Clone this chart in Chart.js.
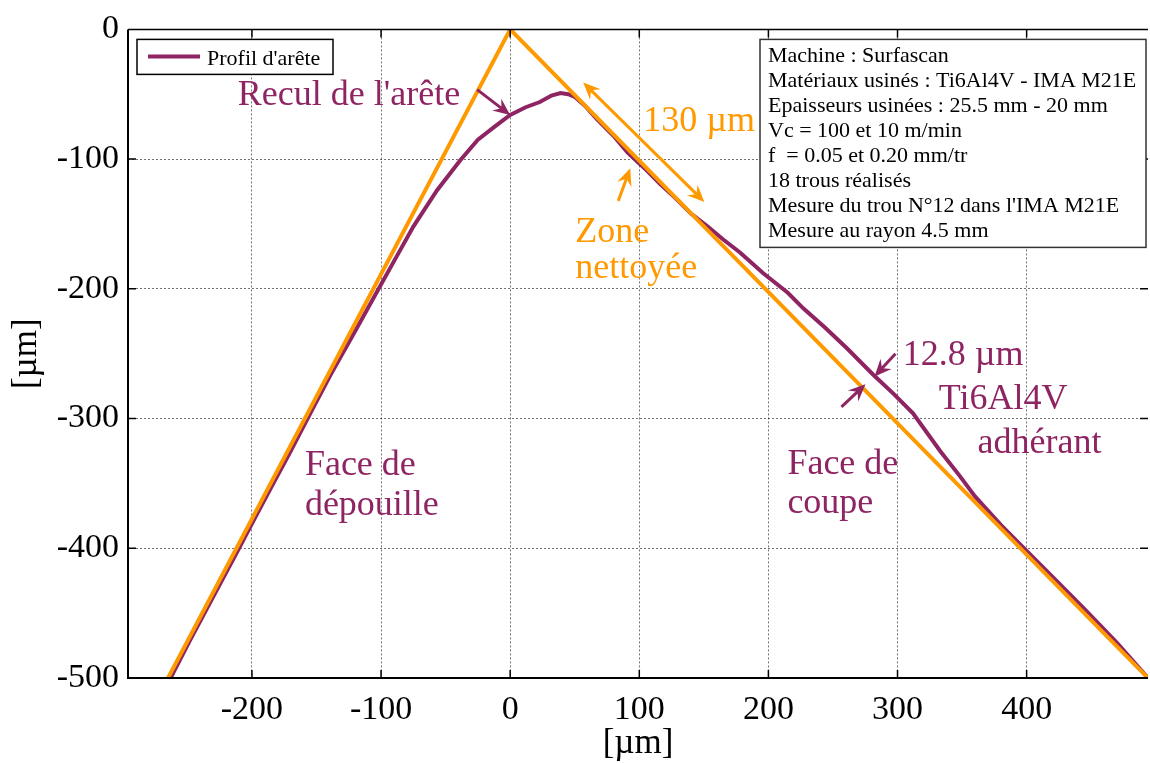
<!DOCTYPE html>
<html>
<head>
<meta charset="utf-8">
<script src="https://cdn.jsdelivr.net/npm/chart.js@4"></script>
<style>
  html, body { margin: 0; padding: 0; background: #fff; }
  #wrap { width: 1150px; height: 763px; }
</style>
</head>
<body>
<div id="wrap"><canvas id="chart"></canvas></div>
<script>
// measured edge profile [µm]
const profileX = [-263, -248, -232, -210.5, -199.5, -185.6, -171, -152.7, -139, -118.6, -100.8, -90.7, -75, -56.6, -38.8, -25, -12, 0, 12, 23, 32, 39, 45, 50, 58, 67, 80, 91, 104, 116, 128, 140, 153, 165, 178, 196, 215, 227, 244, 261, 281, 297, 312, 333, 348, 360, 380, 400, 423, 446, 470, 494];
const profileY = [-500, -471, -441, -401, -380, -354, -327, -292, -266, -230, -198, -180, -152, -124, -101, -85, -75, -66, -60, -56, -51, -49, -50, -52, -59, -69, -82, -95, -107, -119, -130, -142, -152, -162, -172, -188, -203, -215, -230, -246, -266, -281, -296, -325, -344, -360, -382, -402, -425, -448, -473, -500];
// theoretical sharp edge
const edgeX = [-265, 0, 494];
const edgeY = [-500, 0, -500];

const xTicks = [-200, -100, 0, 100, 200, 300, 400];
const yTicks = [0, -100, -200, -300, -400, -500];

const infoLines = [
    'Machine : Surfascan',
    'Matériaux usinés : Ti6Al4V - IMA M21E',
    'Epaisseurs usinées : 25.5 mm - 20 mm',
    'Vc = 100 et 10 m/min',
    'f  = 0.05 et 0.20 mm/tr',
    '18 trous réalisés',
    "Mesure du trou N°12 dans l'IMA M21E",
    'Mesure au rayon 4.5 mm'
];

const purple = '#8e2462';
const orange = '#ff9900';
const serif = '"Liberation Serif", "DejaVu Serif", serif';

// annotations, placed in data units
const notes = [
    { text: "Recul de l'arête", x: -211, y: -58.5, color: purple },
    { text: '130 µm', x: 103, y: -78, color: orange },
    { text: 'Zone', x: 50.4, y: -164, color: orange },
    { text: 'nettoyée', x: 50.4, y: -191.5, color: orange },
    { text: 'Face de', x: -159, y: -343.5, color: purple },
    { text: 'dépouille', x: -159, y: -374, color: purple },
    { text: 'Face de', x: 214.7, y: -342.7, color: purple },
    { text: 'coupe', x: 214.7, y: -373, color: purple },
    { text: '12.8 µm', x: 304, y: -258.4, color: purple },
    { text: 'Ti6Al4V', x: 332, y: -292.6, color: purple },
    { text: 'adhérant', x: 362, y: -326.7, color: purple }
];
const arrows = [
    { from: [-25.6, -46.4], to: [0, -66], color: purple },
    { from: [56.6, -41], to: [150.4, -133], color: orange, both: true },
    { from: [83.7, -132.2], to: [93, -107.1], color: orange },
    { from: [298.4, -250], to: [282.2, -267.5], color: purple },
    { from: [256.6, -291], to: [275.2, -273.6], color: purple }
];

function arrowHead(ctx, x, y, ang) {
    const len = 17, half = 7.5, back = 11;
    ctx.beginPath();
    ctx.moveTo(x, y);
    ctx.lineTo(x - len * Math.cos(ang) + half * Math.sin(ang), y - len * Math.sin(ang) - half * Math.cos(ang));
    ctx.lineTo(x - back * Math.cos(ang), y - back * Math.sin(ang));
    ctx.lineTo(x - len * Math.cos(ang) - half * Math.sin(ang), y - len * Math.sin(ang) + half * Math.cos(ang));
    ctx.closePath();
    ctx.fill();
}

function drawArrow(ctx, x0, y0, x1, y1, color, both) {
    const ang = Math.atan2(y1 - y0, x1 - x0);
    const c = Math.cos(ang), s = Math.sin(ang);
    ctx.strokeStyle = color;
    ctx.fillStyle = color;
    ctx.lineWidth = 3;
    ctx.beginPath();
    ctx.moveTo(both ? x0 + c * 10 : x0, both ? y0 + s * 10 : y0);
    ctx.lineTo(x1 - c * 10, y1 - s * 10);
    ctx.stroke();
    arrowHead(ctx, x1, y1, ang);
    if (both) arrowHead(ctx, x0, y0, ang + Math.PI);
}

const decor = {
    id: 'decor',
    afterDatasetsDraw(chart) {
        const { ctx, chartArea: a, scales: { x, y } } = chart;
        ctx.save();

        // axes box + inward ticks
        ctx.strokeStyle = '#000';
        ctx.lineWidth = 2;
        ctx.beginPath();
        ctx.moveTo(a.left, a.top);
        ctx.lineTo(a.left, a.bottom);
        ctx.lineTo(a.right, a.bottom);
        ctx.stroke();
        ctx.lineWidth = 1.5;
        ctx.beginPath();
        ctx.moveTo(a.left, a.top);
        ctx.lineTo(a.right, a.top);
        xTicks.forEach(v => {
            const px = x.getPixelForValue(v);
            ctx.moveTo(px, a.bottom); ctx.lineTo(px, a.bottom - 8);
            ctx.moveTo(px, a.top); ctx.lineTo(px, a.top + 8);
        });
        yTicks.forEach(v => {
            const py = y.getPixelForValue(v);
            ctx.moveTo(a.left, py); ctx.lineTo(a.left + 8, py);
            ctx.moveTo(a.right, py); ctx.lineTo(a.right - 8, py);
        });
        ctx.stroke();

        // legend
        const lx = a.left + 9, ly = a.top + 10;
        ctx.fillStyle = '#fff';
        ctx.fillRect(lx, ly, 196, 35);
        ctx.strokeStyle = '#000';
        ctx.lineWidth = 1.5;
        ctx.strokeRect(lx, ly, 196, 35);
        ctx.strokeStyle = purple;
        ctx.lineWidth = 4;
        ctx.beginPath();
        ctx.moveTo(lx + 11, ly + 17);
        ctx.lineTo(lx + 63, ly + 17);
        ctx.stroke();
        ctx.fillStyle = '#000';
        ctx.font = '22px ' + serif;
        ctx.textBaseline = 'alphabetic';
        ctx.fillText(chart.data.datasets[1].label, lx + 70, ly + 26);

        // info box
        const bw = 386, bh = 208;
        const bx = a.right - 2 - bw, by = a.top + 10;
        ctx.fillStyle = '#fff';
        ctx.fillRect(bx, by, bw, bh);
        ctx.strokeStyle = '#333';
        ctx.lineWidth = 1.5;
        ctx.strokeRect(bx, by, bw, bh);
        ctx.fillStyle = '#000';
        infoLines.forEach((t, i) => ctx.fillText(t, bx + 8, by + 23 + i * 25));

        // text notes
        ctx.font = '36px ' + serif;
        notes.forEach(n => {
            ctx.fillStyle = n.color;
            ctx.fillText(n.text, x.getPixelForValue(n.x), y.getPixelForValue(n.y));
        });

        // arrows
        arrows.forEach(r => {
            drawArrow(ctx,
                x.getPixelForValue(r.from[0]), y.getPixelForValue(r.from[1]),
                x.getPixelForValue(r.to[0]), y.getPixelForValue(r.to[1]),
                r.color, r.both);
        });
        ctx.restore();
    }
};

const toPoints = (xs, ys) => xs.map((v, i) => ({ x: v, y: ys[i] }));

new Chart(document.getElementById('chart'), {
    type: 'scatter',
    data: {
        datasets: [
            {
                label: 'Arête théorique',
                data: toPoints(edgeX, edgeY),
                showLine: true,
                borderColor: orange,
                borderWidth: 4,
                pointRadius: 0,
                tension: 0
            },
            {
                label: "Profil d'arête",
                data: toPoints(profileX, profileY),
                showLine: true,
                borderColor: purple,
                borderWidth: 4,
                pointRadius: 0,
                tension: 0
            }
        ]
    },
    options: {
        responsive: true,
        maintainAspectRatio: false,
        animation: false,
        layout: { padding: { top: 20, right: 2, left: 0, bottom: 0 } },
        plugins: { legend: { display: false }, tooltip: { enabled: false } },
        scales: {
            x: {
                type: 'linear',
                min: -296,
                max: 494,
                afterBuildTicks: s => { s.ticks = xTicks.map(v => ({ value: v })); },
                afterFit: s => { s.height = 85; },
                grid: { color: 'rgba(0,0,0,0.55)', lineWidth: 1, drawTicks: false },
                border: { display: false, dash: [2, 2] },
                ticks: { color: '#000', font: { family: serif, size: 34 }, padding: 12 },
                title: { display: true, text: '[µm]', color: '#000', font: { family: serif, size: 35, lineHeight: 1.1 }, padding: { top: 0, bottom: 0 } }
            },
            y: {
                type: 'linear',
                min: -500,
                max: 0,
                afterBuildTicks: s => { s.ticks = yTicks.map(v => ({ value: v })); },
                afterFit: s => { s.width = 128; },
                grid: { color: 'rgba(0,0,0,0.55)', lineWidth: 1, drawTicks: false },
                border: { display: false, dash: [2, 2] },
                ticks: { color: '#000', font: { family: serif, size: 34 }, padding: 9 },
                title: { display: true, text: '[µm]', color: '#000', font: { family: serif, size: 35 }, padding: { top: 6, bottom: 0 } }
            }
        }
    },
    plugins: [decor]
});
</script>
</body>
</html>
